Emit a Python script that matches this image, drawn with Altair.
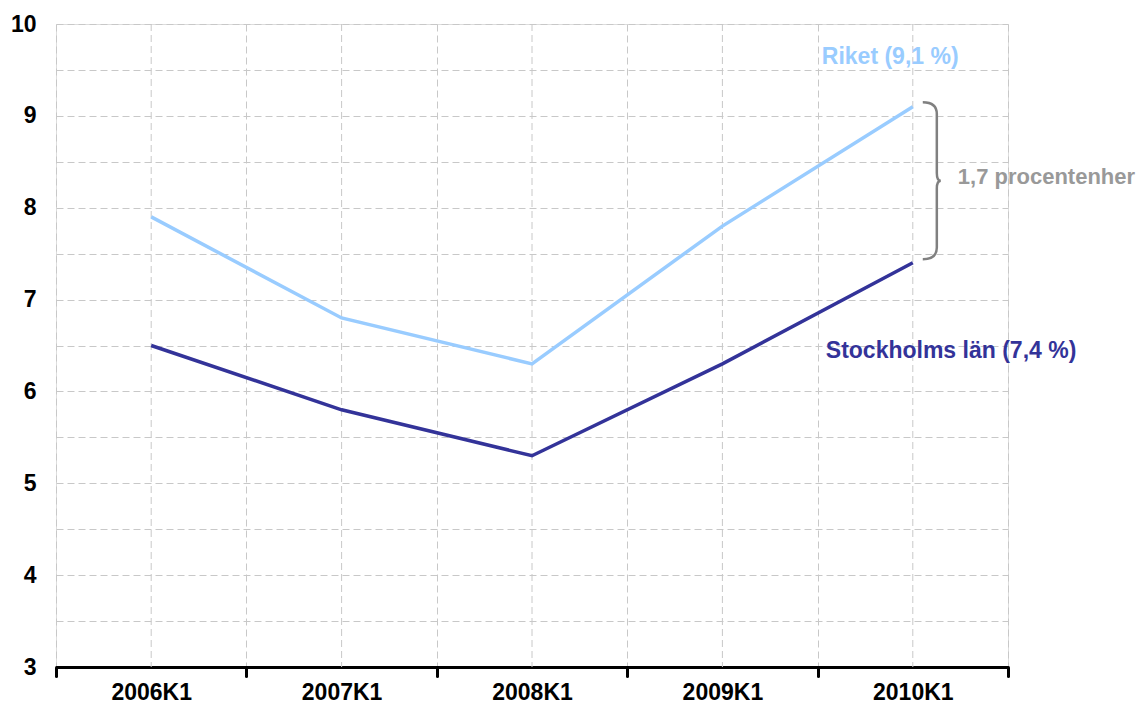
import altair as alt
import pandas as pd

quarters = ["2006K1", "2007K1", "2008K1", "2009K1", "2010K1"]
riket = [7.9, 6.8, 6.3, 7.8, 9.1]
stockholm = [6.5, 5.8, 5.3, 6.3, 7.4]
y_grid = [3, 3.5, 4, 4.5, 5, 5.5, 6, 6.5, 7, 7.5, 8, 8.5, 9, 9.5, 10]

FONT = "Liberation Sans"
GRID = "#c8c8c8"
DASH = [7, 4]
FS = 23

df = pd.DataFrame({
    "kvartal": quarters * 2,
    "värde": riket + stockholm,
    "serie": ["Riket"] * 5 + ["Stockholms län"] * 5,
})

x_enc = alt.X(
    "kvartal:N",
    sort=quarters,
    scale=alt.Scale(type="band", paddingInner=0, paddingOuter=0, domain=quarters),
    axis=alt.Axis(
        title=None, labelAngle=0, labelAlign="center", tickBand="extent", grid=True,
        gridColor=GRID, gridDash=DASH, gridWidth=1,
        domainColor="black", domainWidth=3,
        tickColor="black", tickWidth=3, tickSize=9, tickCap="round",
        labelFont=FONT, labelFontSize=FS, labelFontWeight="bold",
        labelColor="black", labelPadding=16,
    ),
)
y_scale = alt.Scale(domain=[3, 10], nice=False, zero=False)
y_enc = alt.Y(
    "värde:Q", scale=y_scale,
    axis=alt.Axis(
        title=None, values=y_grid, domain=False, ticks=False,
        grid=True, gridColor=GRID, gridDash=DASH, gridWidth=1,
        labelExpr="datum.value % 1 == 0 ? format(datum.value, 'd') : ''",
        labelFont=FONT, labelFontSize=FS, labelFontWeight="bold",
        labelColor="black", labelPadding=20,
    ),
)

centers = alt.Chart(pd.DataFrame({"kvartal": quarters})).mark_rule(
    color=GRID, strokeDash=DASH, strokeWidth=1
).encode(x=alt.X("kvartal:N", sort=quarters))

lines = alt.Chart(df).mark_line(strokeWidth=3.5).encode(
    x=x_enc,
    y=y_enc,
    color=alt.Color(
        "serie:N",
        scale=alt.Scale(domain=["Riket", "Stockholms län"], range=["#99ccff", "#333399"]),
        legend=None,
    ),
)

last_r = pd.DataFrame({"kvartal": [quarters[-1]], "värde": [riket[-1]]})
last_s = pd.DataFrame({"kvartal": [quarters[-1]], "värde": [stockholm[-1]]})
mid = pd.DataFrame({"kvartal": [quarters[-1]], "värde": [(riket[-1] + stockholm[-1]) / 2]})

txt_r = alt.Chart(last_r).mark_text(
    text="Riket (9,1 %)", align="left", baseline="middle", dx=-91, dy=-50,
    font=FONT, fontSize=FS, fontWeight="bold", color="#99ccff",
).encode(x=alt.X("kvartal:N", sort=quarters), y=alt.Y("värde:Q", scale=y_scale))

txt_s = alt.Chart(last_s).mark_text(
    text="Stockholms län (7,4 %)", align="left", baseline="middle", dx=-87, dy=88,
    font=FONT, fontSize=FS, fontWeight="bold", color="#333399",
).encode(x=alt.X("kvartal:N", sort=quarters), y=alt.Y("värde:Q", scale=y_scale))

txt_d = alt.Chart(mid).mark_text(
    text="1,7 procentenher", align="left", baseline="middle", dx=45, dy=-8,
    font=FONT, fontSize=22, fontWeight="bold", color="#999999",
).encode(x=alt.X("kvartal:N", sort=quarters), y=alt.Y("värde:Q", scale=y_scale))

brace_path = (
    "M -0.115 -1 C -0.02 -1 0.064 -0.97 0.064 -0.85 L 0.064 -0.1 "
    "C 0.064 -0.03 0.08 0 0.115 0 C 0.08 0 0.064 0.03 0.064 0.1 "
    "L 0.064 0.85 C 0.064 0.97 -0.02 1 -0.115 1"
)
brace = alt.Chart(mid).mark_point(
    shape=brace_path, size=157 * 157, filled=False, stroke="#808080",
    strokeWidth=2.5, opacity=1, xOffset=19, yOffset=-4,
).encode(x=alt.X("kvartal:N", sort=quarters), y=alt.Y("värde:Q", scale=y_scale))

chart = alt.layer(centers, lines, txt_r, txt_s, txt_d, brace).properties(
    width=952, height=643,
    autosize=alt.AutoSizeParams(type="none"),
    padding={"left": 48, "top": 16, "right": 128, "bottom": 38},
).configure_view(stroke=None).configure(background="white")

chart.save("out.html", embed_options={"renderer": "svg", "actions": False})
